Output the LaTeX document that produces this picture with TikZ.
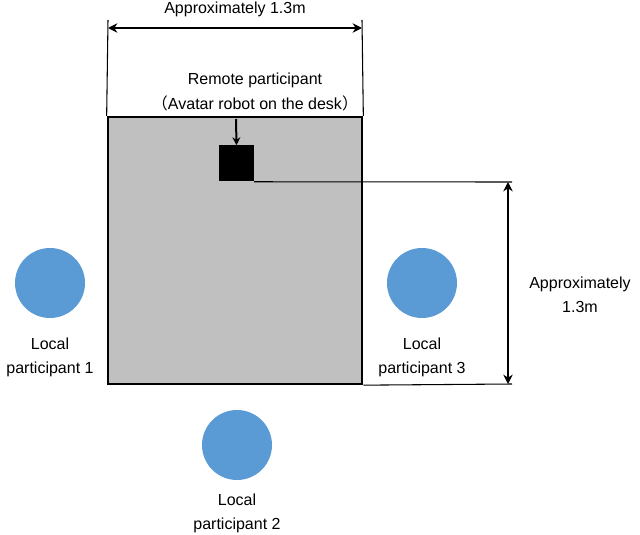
\documentclass[tikz,border=0pt]{standalone}
\usepackage{fontspec}
\setmainfont{Liberation Sans}
\newfontfamily\cjk{Noto Sans CJK JP}
\usetikzlibrary{arrows.meta}
\begin{document}
\begin{tikzpicture}[x=0.75pt,y=-0.75pt,
  lbl/.style={font=\fontsize{12}{14}\selectfont,inner sep=0pt},
  person/.style={circle,fill={rgb,255:red,91;green,155;blue,213},minimum size=52.5pt,inner sep=0pt},
  dim/.style={line width=2.2pt,{Stealth[length=7pt,width=7pt]}-{Stealth[length=7pt,width=7pt]}},
  thin/.style={line width=0.8pt}]
\useasboundingbox (0,0) rectangle (640,535);
\node[draw=black,line width=2pt,fill={rgb,255:red,192;green,192;blue,192},minimum width=190.5pt,minimum height=200pt,inner sep=0pt] (desk) at (235,250.5) {};
\node[fill=black,minimum width=26pt,minimum height=27pt,inner sep=0pt] (robot) at (236.5,163.5) {};
\coordinate (tl) at (108,20); \coordinate (tr) at (362,20);
\draw[thin] (tl) -- (desk.north west);
\draw[thin] (tr) -- (desk.north east);
\coordinate (al) at (108,28); \coordinate (ar) at (362,28);
\draw[dim] (al) -- (ar);
\node[lbl] (t1) at (235,9) {Approximately 1.3m};
\node[lbl] (rp) at (255,80) {Remote participant};
\node[lbl] (av) at (255,103) {{\cjk （}Avatar robot on the desk{\cjk ）}};
\coordinate (ra) at (236,119);
\draw[line width=1.5pt,-{Stealth[length=6pt,width=6pt]}] (ra) -- (robot.north);
\coordinate (hr) at (512,182); \coordinate (br) at (512,384);
\draw[thin] (robot.south east) -- (hr);
\draw[thin] (desk.south east) -- (br);
\coordinate (vt) at (508,182); \coordinate (vb) at (508,384);
\draw[dim] (vt) -- (vb);
\node[lbl,align=center] (t2) at (580,295) {Approximately\\[4pt]1.3m};
\node[person] (p1) at (50,283) {};
\node[person] (p3) at (422,283) {};
\node[person] (p2) at (237,445) {};
\node[lbl,align=center] (l1) at (50,357) {Local\\[4pt]participant 1};
\node[lbl,align=center] (l3) at (422,357) {Local\\[4pt]participant 3};
\node[lbl,align=center] (l2) at (237,513) {Local\\[4pt]participant 2};
\end{tikzpicture}
\end{document}
